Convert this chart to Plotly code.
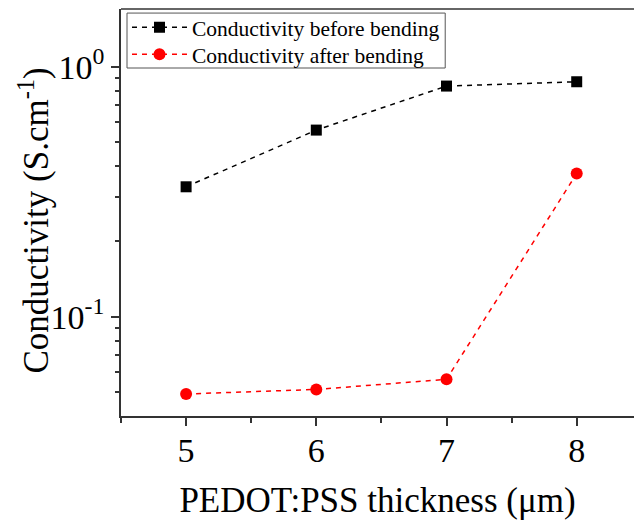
import plotly.graph_objects as go

thickness = [5, 6, 7, 8]
before_bending = [0.331, 0.558, 0.837, 0.871]
after_bending = [0.0491, 0.0512, 0.0562, 0.374]

y_major = [0.1, 1]
y_major_text = ["10<sup>-1</sup>", "10<sup>0</sup>"]
y_minor = [0.05, 0.06, 0.07, 0.08, 0.09, 0.2, 0.3, 0.4, 0.5, 0.6, 0.7, 0.8, 0.9]
x_major = [5, 6, 7, 8]
x_minor = [4.5, 5.5, 6.5, 7.5]

FONT = "Liberation Serif"
AXIS_COLOR = "#333333"

fig = go.Figure()
fig.add_trace(go.Scatter(
    x=thickness, y=before_bending, mode="lines+markers",
    name="Conductivity before bending", legend="legend",
    line=dict(color="black", width=1.5, dash="5px,5px"),
    marker=dict(symbol="square", size=11, color="black"),
))
fig.add_trace(go.Scatter(
    x=thickness, y=after_bending, mode="lines+markers",
    name="Conductivity after bending", legend="legend2",
    line=dict(color="red", width=1.5, dash="5px,5px"),
    marker=dict(symbol="circle", size=12, color="red"),
))

legend_style = dict(
    xanchor="left", yanchor="middle", borderwidth=0,
    bgcolor="rgba(0,0,0,0)", font=dict(family=FONT, size=21.5),
    itemwidth=55,
)

fig.update_layout(
    width=634, height=521,
    margin=dict(l=121, r=0, t=9, b=105),
    paper_bgcolor="white", plot_bgcolor="white",
    font=dict(family=FONT, color="black"),
    showlegend=True,
    legend=dict(x=0.0117, y=0.955, **legend_style),
    legend2=dict(x=0.0117, y=0.889, **legend_style),
    xaxis=dict(
        range=[4.5, 8.44], showgrid=False, zeroline=False,
        showline=True, linecolor=AXIS_COLOR, linewidth=1.5,
        ticks="outside", ticklen=8, tickwidth=1.5, tickcolor=AXIS_COLOR,
        tickvals=x_major, ticktext=[str(v) for v in x_major],
        tickfont=dict(family=FONT, size=34), ticklabelstandoff=-5,
        minor=dict(tickvals=x_minor, ticks="outside", ticklen=5,
                   tickwidth=1.5, tickcolor=AXIS_COLOR),
        title=dict(text="PEDOT:PSS thickness (μm)", font=dict(family=FONT, size=35),
                   standoff=20),
    ),
    yaxis=dict(
        type="log", range=[-1.397, 0.231], showgrid=False, zeroline=False,
        showline=True, linecolor=AXIS_COLOR, linewidth=1.5,
        ticks="outside", ticklen=8, tickwidth=1.5, tickcolor=AXIS_COLOR,
        tickvals=y_major, ticktext=y_major_text,
        tickfont=dict(family=FONT, size=34),
        minor=dict(tickvals=y_minor, ticks="outside", ticklen=4,
                   tickwidth=1.5, tickcolor=AXIS_COLOR),
    ),
    annotations=[dict(
        text="Conductivity (S.cm<sup>-1</sup>)", textangle=-90,
        xref="paper", yref="paper", x=0, y=0.5, xanchor="center", yanchor="middle",
        xshift=-87, yshift=-8, showarrow=False, font=dict(family=FONT, size=35),
    )],
    shapes=[
        # top frame line
        dict(type="line", xref="paper", yref="paper", x0=0, x1=1, y0=1, y1=1,
             line=dict(color=AXIS_COLOR, width=1.5)),
        # legend frame
        dict(type="rect", xref="paper", yref="paper", x0=0.0117, x1=0.632,
             y0=0.855, y1=0.990, line=dict(color="#555555", width=1),
             fillcolor="rgba(0,0,0,0)", layer="below"),
    ],
)

fig.write_html("out.html")
